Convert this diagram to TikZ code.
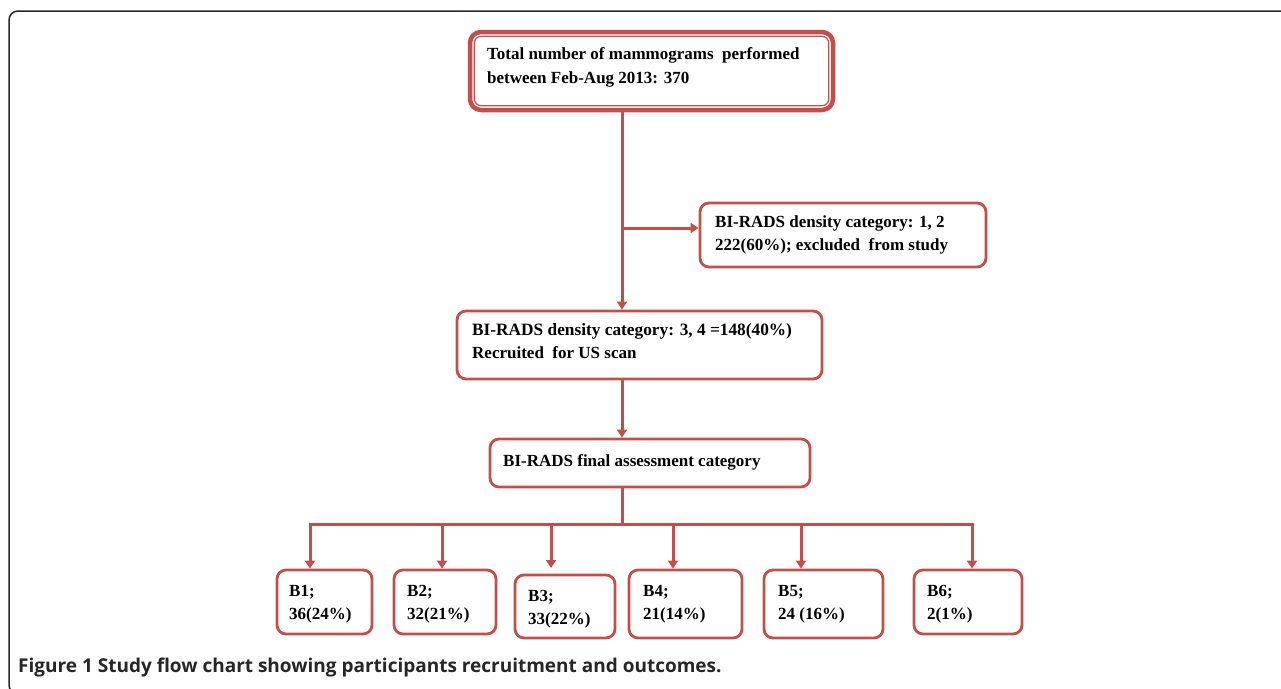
\documentclass[tikz,border=0pt]{standalone}
\usepackage{fontspec}
\setmainfont{Liberation Serif}
\newfontfamily\capfont{Open Sans}
\usetikzlibrary{arrows.meta}
\definecolor{boxred}{RGB}{192,80,77}
\definecolor{framegray}{RGB}{40,40,40}
\tikzset{
  rbox/.style={draw=boxred, line width=2.8pt, rounded corners=9pt, fill=white, inner sep=0pt},
  txt/.style={anchor=base west, inner sep=0pt, font=\bfseries\fontsize{17}{20}\selectfont},
  arr/.style={draw=boxred, line width=3pt, -{Triangle[length=8pt,width=10pt]}},
  ln/.style={draw=boxred, line width=3pt},
}
\begin{document}
\begin{tikzpicture}[x=1pt,y=-1pt]
\useasboundingbox (0,0) rectangle (1281,688);
% outer frame
\draw[framegray, line width=1.5pt, rounded corners=9pt] (1300,11) -- (9,11) -- (9,694) -- (40,694);

% boxes
\node[rbox, line width=4.5pt, rounded corners=11pt, minimum width=363pt, minimum height=78pt] (top) at (651.5,71) {};
\draw[boxred, line width=1.2pt, rounded corners=7pt] ([shift={(6.5,6.5)}]top.north west) rectangle ([shift={(-6.5,-6.5)}]top.south east);
\node[rbox, minimum width=286pt, minimum height=64pt] (side) at (843,235) {};
\node[rbox, minimum width=365pt, minimum height=68pt] (mid) at (639.5,345) {};
\node[rbox, minimum width=320pt, minimum height=48pt] (fin) at (650,463) {};
\node[rbox, minimum width=95pt, minimum height=64pt] (b1) at (324.5,602) {};
\node[rbox, minimum width=102pt, minimum height=64pt] (b2) at (445,602) {};
\node[rbox, minimum width=100pt, minimum height=63pt] (b3) at (565,606.5) {};
\node[rbox, minimum width=113pt, minimum height=68pt] (b4) at (685.5,604) {};
\node[rbox, minimum width=119pt, minimum height=68pt] (b5) at (823.5,604) {};
\node[rbox, minimum width=108pt, minimum height=64pt] (b6) at (968,602) {};

% texts
\node[txt] (t1a) at (487,59) {Total number of mammograms\ \ performed};
\node[txt] (t1b) at (487,83) {between Feb-Aug 2013: 370};
\node[txt] (t2a) at (715,227) {BI-RADS density category: 1, 2};
\node[txt] (t2b) at (715,250) {222(60\%); excluded\ \ from study};
\node[txt, font=\bfseries\fontsize{17.3}{20}\selectfont] (t3a) at (472,335) {BI-RADS density category: 3, 4 =148(40\%)};
\node[txt] (t3b) at (472,358) {Recruited\ \ for US scan};
\node[txt] (t4) at (503,466) {BI-RADS final assessment category};
\node[txt] (l1a) at (289,596) {B1;};
\node[txt] (l1b) at (289,619) {36(24\%)};
\node[txt] (l2a) at (407,596) {B2;};
\node[txt] (l2b) at (407,619) {32(21\%)};
\node[txt] (l3a) at (528,601) {B3;};
\node[txt] (l3b) at (528,624) {33(22\%)};
\node[txt] (l4a) at (643,596) {B4;};
\node[txt] (l4b) at (643,619) {21(14\%)};
\node[txt] (l5a) at (778,596) {B5;};
\node[txt] (l5b) at (778,619) {24 (16\%)};
\node[txt] (l6a) at (927,596) {B6;};
\node[txt] (l6b) at (927,619) {2(1\%)};

% connectors
\coordinate (trunk) at (622,0);
\coordinate (br) at (622,228);
\coordinate (bus) at (622,524);
\coordinate (busL) at (310,524);
\coordinate (busR) at (972,524);
\coordinate (a1) at (310,524);
\coordinate (a2) at (442,524);
\coordinate (a3) at (551,524);
\coordinate (a4) at (673,524);
\coordinate (a5) at (801,524);
\coordinate (a6) at (972,524);
\coordinate (a3end) at (551,568);

\draw[arr] (top.south -| trunk) -- (mid.north -| trunk);
\draw[arr] (br) -- (br -| side.west);
\draw[arr] (mid.south -| trunk) -- (fin.north -| trunk);
\draw[ln] (fin.south -| trunk) -- (bus);
\draw[ln, line cap=rect] (busL) -- (busR);
\draw[arr] (a1) -- (b1.north -| a1);
\draw[arr] (a2) -- (b2.north -| a2);
\draw[arr] (a3) -- (a3end);
\draw[arr] (a4) -- (b4.north -| a4);
\draw[arr] (a5) -- (b5.north -| a5);
\draw[arr] (a6) -- (b6.north -| a6);

% caption
\node[anchor=base west, inner sep=0pt, font=\capfont\fontsize{19}{22}\selectfont, text=black!85] (cap) at (18,672) {\textbf{Figure 1} \textbf{Study flow chart showing participants recruitment and outcomes.}};
\end{tikzpicture}
\end{document}
